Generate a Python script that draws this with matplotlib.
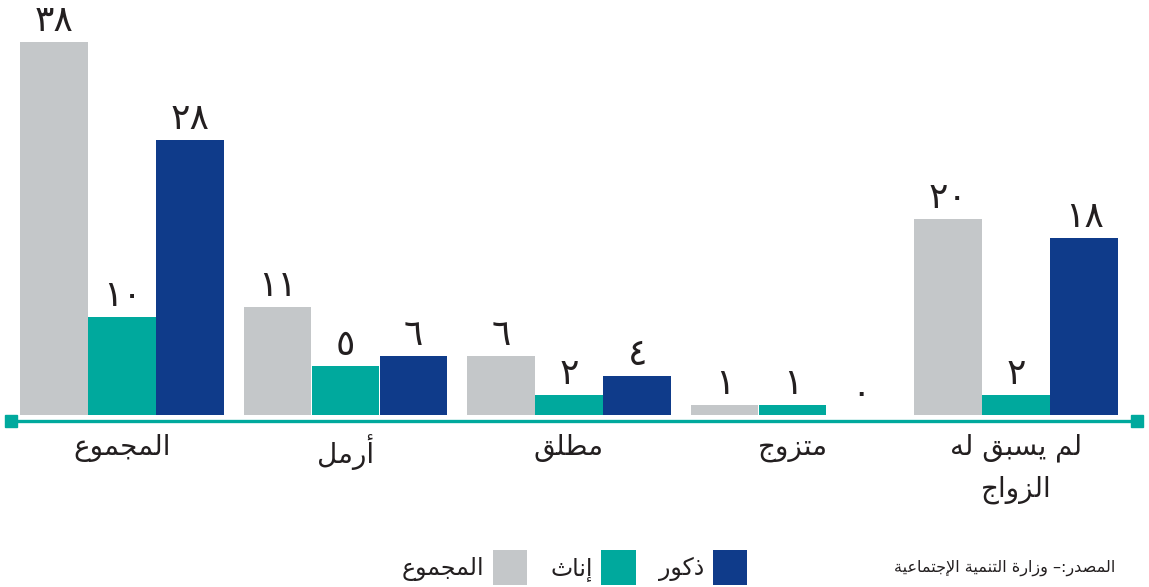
import matplotlib
matplotlib.use("Agg")
import matplotlib.pyplot as plt
import numpy as np

# chart data
categories = ["المجموع", "أرمل", "مطلق", "متزوج", "لم يسبق له\nالزواج"]
total = [38, 11, 6, 1, 20]
females = [10, 5, 2, 1, 2]
males = [28, 6, 4, 0, 18]
series_names = ["المجموع", "إناث", "ذكور"]
source_text = "المصدر:– وزارة التنمية الإجتماعية"

GREY = "#C4C7C9"
TEAL = "#00A99D"
BLUE = "#0F3B8A"
TEXT = "#231F20"

# --- minimal arabic shaping, matplotlib 3.10 has no bidi/shaping ---
DUAL = {'ب': 0xFE8F, 'ت': 0xFE95, 'ث': 0xFE99, 'ج': 0xFE9D, 'س': 0xFEB1,
        'ص': 0xFEB9, 'ط': 0xFEC1, 'ع': 0xFEC9, 'ق': 0xFED5, 'ك': 0xFED9,
        'ل': 0xFEDD, 'م': 0xFEE1, 'ن': 0xFEE5, 'ه': 0xFEE9, 'ي': 0xFEF1}
RIGHT = {'ا': 0xFE8D, 'أ': 0xFE83, 'إ': 0xFE87, 'ة': 0xFE93, 'د': 0xFEA9,
         'ذ': 0xFEAB, 'ر': 0xFEAD, 'ز': 0xFEAF, 'و': 0xFEED}
LAM_ALEF = {'ا': 0xFEFB, 'أ': 0xFEF7, 'إ': 0xFEF9}


def shape_line(s):
    # merge lam + alef into ligature tokens
    toks = []
    i = 0
    while i < len(s):
        if s[i] == 'ل' and i + 1 < len(s) and s[i + 1] in LAM_ALEF:
            toks.append(('LA', s[i + 1]))
            i += 2
        else:
            toks.append((s[i], None))
            i += 1

    def is_letter(t):
        return t[0] == 'LA' or t[0] in DUAL or t[0] in RIGHT

    out = []
    for k, t in enumerate(toks):
        prev = toks[k - 1] if k > 0 else None
        nxt = toks[k + 1] if k + 1 < len(toks) else None
        pj = prev is not None and prev[0] in DUAL
        if t[0] == 'LA':
            out.append(chr(LAM_ALEF[t[1]] + (1 if pj else 0)))
        elif t[0] in DUAL:
            nj = nxt is not None and is_letter(nxt)
            form = {(False, False): 0, (True, False): 1,
                    (False, True): 2, (True, True): 3}[(pj, nj)]
            out.append(chr(DUAL[t[0]] + form))
        elif t[0] in RIGHT:
            out.append(chr(RIGHT[t[0]] + (1 if pj else 0)))
        else:
            out.append(t[0])
    return ''.join(out)[::-1]


def ar(s):
    return '\n'.join(shape_line(line) for line in s.split('\n'))


def ar_digits(v):
    return str(v).translate(str.maketrans('0123456789', '٠١٢٣٤٥٦٧٨٩'))


plt.rcParams['font.family'] = ['DejaVu Sans']

fig = plt.figure(figsize=(11.49, 5.87), dpi=100)
ax = fig.add_axes([0, 0, 1, 1])
ax.set_xlim(-0.546, 4.595)
ax.set_ylim(-17.52, 42.28)
ax.axis('off')

x = np.arange(len(categories))
w = 0.305
series = [total, females, males]
colors = [GREY, TEAL, BLUE]
for j, (vals, col, name) in enumerate(zip(series, colors, series_names)):
    bars = ax.bar(x + (j - 1) * w, vals, width=w * 0.99, color=col,
                  label=ar(name), zorder=2)
    ax.bar_label(bars, labels=[ar_digits(v) for v in vals], padding=3,
                 fontsize=26, color=TEXT)

# teal baseline with square ends
ax.plot([0.0096, 0.9896], [-0.58, -0.58], transform=ax.get_yaxis_transform(),
        color=TEAL, lw=2.4, marker='s', ms=8, zorder=3, clip_on=False)

for xi, cat in zip(x, categories):
    ax.text(xi, -1.9, ar(cat), ha='center', va='top', fontsize=20,
            color=TEXT, linespacing=1.55)

ax.legend(loc='center', bbox_to_anchor=(0.5, 0.034), bbox_transform=fig.transFigure,
          ncol=3, markerfirst=False, frameon=False, fontsize=17,
          handlelength=1.45, handleheight=1.9, handletextpad=0.35,
          columnspacing=1.0, labelcolor=TEXT)

fig.text(1115 / 1149, 1 - 568 / 587, ar(source_text), ha='right', va='center',
         fontsize=11.5, color=TEXT)

fig.savefig('out.png', dpi=100)
